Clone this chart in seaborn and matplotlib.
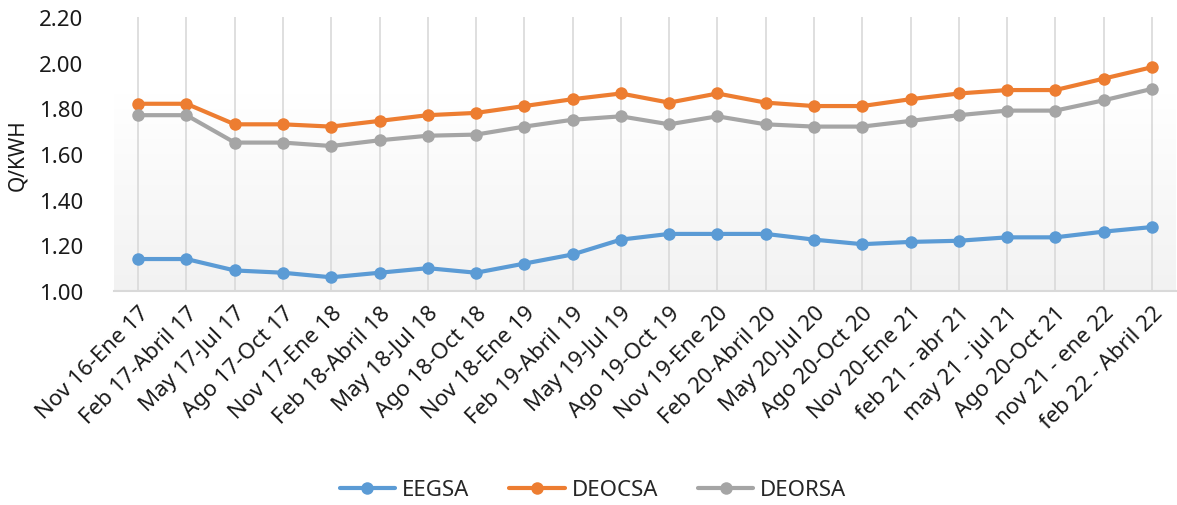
import numpy as np
import pandas as pd
import matplotlib
matplotlib.use("Agg")
import matplotlib.pyplot as plt
import seaborn as sns
from matplotlib.colors import LinearSegmentedColormap

# 数据
PERIODOS = [
    "Nov 16-Ene 17", "Feb 17-Abril 17", "May 17-Jul 17", "Ago 17-Oct 17",
    "Nov 17-Ene 18", "Feb 18-Abril 18", "May 18-Jul 18", "Ago 18-Oct 18",
    "Nov 18-Ene 19", "Feb 19-Abril 19", "May 19-Jul 19", "Ago 19-Oct 19",
    "Nov 19-Ene 20", "Feb 20-Abril 20", "May 20-Jul 20", "Ago 20-Oct 20",
    "Nov 20-Ene 21", "feb 21 - abr 21", "may 21 - jul 21", "Ago 20-Oct 21",
    "nov 21 - ene 22", "feb 22 - Abril 22",
]
EEGSA = [1.14, 1.14, 1.09, 1.08, 1.06, 1.08, 1.10, 1.08, 1.12, 1.16, 1.225,
         1.25, 1.25, 1.25, 1.225, 1.205, 1.215, 1.22, 1.235, 1.235, 1.26, 1.28]
DEOCSA = [1.82, 1.82, 1.73, 1.73, 1.72, 1.745, 1.77, 1.78, 1.81, 1.84, 1.865,
          1.825, 1.865, 1.825, 1.81, 1.81, 1.84, 1.865, 1.88, 1.88, 1.93, 1.98]
DEORSA = [1.77, 1.77, 1.65, 1.65, 1.635, 1.66, 1.68, 1.685, 1.72, 1.75, 1.765,
          1.73, 1.765, 1.73, 1.72, 1.72, 1.745, 1.77, 1.79, 1.79, 1.835, 1.885]
EMPRESAS = ["EEGSA", "DEOCSA", "DEORSA"]
COLORES = {"EEGSA": "#5B9BD5", "DEOCSA": "#ED7D31", "DEORSA": "#A5A5A5"}

df = pd.DataFrame({"periodo": PERIODOS, "EEGSA": EEGSA,
                   "DEOCSA": DEOCSA, "DEORSA": DEORSA})
df = df.melt(id_vars="periodo", var_name="empresa", value_name="valor")

sns.set_style("white")
plt.rcParams['font.family'] = ['Noto Sans', 'DejaVu Sans']

fig = plt.figure(figsize=(11.77, 5.06), dpi=100)
ax = fig.add_axes([114 / 1177, 1 - 292 / 506, (1176 - 114) / 1177, (292 - 18) / 506])

# 背景渐变
cmap = LinearSegmentedColormap.from_list(
    "bg", [(0, "#f2f2f2"), (0.72, "#ffffff"), (1, "#ffffff")])
grad = np.linspace(0, 1, 256).reshape(-1, 1)
ax.imshow(grad, extent=[0, 1, 0, 1], transform=ax.transAxes, aspect="auto",
          cmap=cmap, origin="lower", zorder=0)

sns.lineplot(data=df, x="periodo", y="valor", hue="empresa", hue_order=EMPRESAS,
             palette=COLORES, marker="o", markersize=9, markeredgewidth=0,
             linewidth=3, sort=False, ax=ax, zorder=3)

ax.set_xlim(-0.5, len(PERIODOS) - 0.5)
ax.set_ylim(1.0, 2.2)
ax.set_yticks(np.arange(1.0, 2.21, 0.2))
ax.set_yticklabels([f"{v:.2f}" for v in np.arange(1.0, 2.21, 0.2)], fontsize=16)
ax.set_xticks(range(len(PERIODOS)))
ax.set_xticklabels(PERIODOS, rotation=45, ha="right", rotation_mode="anchor",
                   fontsize=16)
ax.tick_params(axis="both", length=0, colors="#1a1a1a")
ax.tick_params(axis="y", pad=22)
ax.tick_params(axis="x", pad=8)

ax.grid(axis="x", color="#d9d9d9", linewidth=1.2, zorder=1)
ax.grid(axis="y", visible=False)
ax.set_axisbelow(True)
for side in ["top", "right", "left"]:
    ax.spines[side].set_visible(False)
ax.spines["bottom"].set_color("#d9d9d9")
ax.spines["bottom"].set_linewidth(1.5)

ax.set_xlabel("")
ax.set_ylabel("Q/KWH", fontsize=15, color="#1a1a1a", labelpad=8)

handles, labels = ax.get_legend_handles_labels()
ax.get_legend().remove()
fig.legend(handles, labels, loc="center", bbox_to_anchor=(593 / 1177, 1 - 491 / 506),
           ncol=3, frameon=False, fontsize=16, handlelength=2.5,
           columnspacing=1.8, handletextpad=0.3)

fig.savefig("out.png", dpi=100)
